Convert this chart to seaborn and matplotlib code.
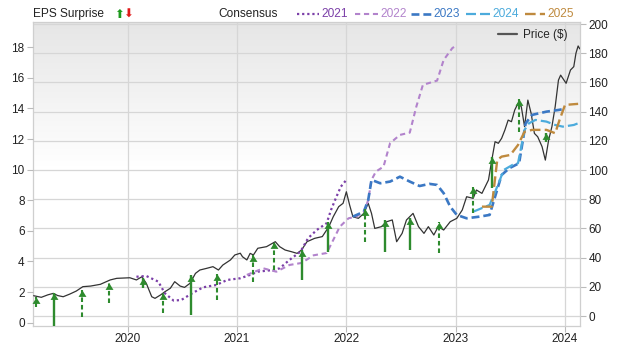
import numpy as np
import pandas as pd
import matplotlib
matplotlib.use("Agg")
import matplotlib.pyplot as plt
import seaborn as sns
from matplotlib.lines import Line2D
from matplotlib.path import Path
from matplotlib.colors import LinearSegmentedColormap

# ---------------- data ----------------
price_t = [2019.14, 2019.21, 2019.27, 2019.32, 2019.36, 2019.41, 2019.47, 2019.53, 2019.59, 2019.66,
           2019.75, 2019.84, 2019.90, 2019.96, 2020.02, 2020.08, 2020.13, 2020.17, 2020.22, 2020.25,
           2020.30, 2020.34, 2020.39, 2020.43, 2020.48, 2020.52, 2020.57, 2020.62, 2020.66, 2020.72,
           2020.78, 2020.83, 2020.87, 2020.94, 2020.98, 2021.03, 2021.05, 2021.09, 2021.12, 2021.15,
           2021.19, 2021.27, 2021.35, 2021.39, 2021.44, 2021.50, 2021.55, 2021.59, 2021.64, 2021.71,
           2021.78, 2021.84, 2021.88, 2021.93, 2021.97, 2022.00, 2022.03, 2022.06, 2022.11, 2022.16,
           2022.20, 2022.23, 2022.26, 2022.32, 2022.37, 2022.42, 2022.46, 2022.51, 2022.55, 2022.61,
           2022.66, 2022.71, 2022.75, 2022.80, 2022.84, 2022.89, 2022.95, 2023.01, 2023.06, 2023.10,
           2023.16, 2023.19, 2023.24, 2023.27, 2023.30, 2023.33, 2023.36, 2023.39, 2023.42, 2023.45,
           2023.48, 2023.51, 2023.54, 2023.57, 2023.60, 2023.63, 2023.66, 2023.69, 2023.72, 2023.75,
           2023.79, 2023.82, 2023.85, 2023.88, 2023.91, 2023.94, 2023.96, 2024.01, 2024.05, 2024.08,
           2024.10, 2024.12, 2024.135]
price_v = [13.9, 12.8, 14.5, 15.5, 14.0, 13.2, 15.0, 17.1, 20.1, 20.5,
           21.7, 24.7, 25.8, 26.0, 26.2, 24.7, 26.9, 22.4, 13.2, 12.1,
           14.4, 16.6, 19.0, 23.5, 20.5, 19.6, 22.4, 29.2, 31.5, 32.6,
           33.8, 31.5, 34.9, 38.4, 41.8, 43.0, 40.6, 38.4, 42.9, 41.8,
           46.4, 47.5, 50.9, 47.5, 45.2, 44.0, 42.9, 45.2, 50.9, 53.2,
           54.4, 61.2, 68.0, 74.9, 77.2, 85.1, 76.0, 68.0, 66.9, 70.3,
           77.2, 70.3, 60.0, 61.2, 64.6, 65.8, 50.9, 56.6, 65.8, 70.3,
           61.2, 56.6, 61.2, 55.5, 61.2, 58.9, 64.6, 66.9, 72.6, 81.7,
           80.6, 86.3, 84.0, 88.6, 93.2, 106.8, 119.4, 118.3, 121.7, 127.4,
           134.2, 133.1, 141.1, 145.7, 143.4, 129.7, 147.9, 138.8, 125.1, 122.8,
           116.0, 106.8, 120.5, 129.7, 143.4, 161.6, 165.0, 159.4, 168.5, 170.8,
           180.0, 185.0, 183.0]

c2021_t = [2020.08, 2020.17, 2020.28, 2020.34, 2020.42, 2020.49, 2020.59, 2020.69, 2020.81, 2020.91,
           2021.03, 2021.12, 2021.19, 2021.33, 2021.39, 2021.48, 2021.58, 2021.65, 2021.73, 2021.82,
           2021.86, 2021.91, 2021.95, 2022.00]
c2021_v = [3.0, 3.05, 2.68, 1.92, 1.44, 1.48, 1.92, 2.31, 2.46, 2.79,
           2.9, 3.12, 3.33, 3.44, 3.55, 4.1, 4.64, 5.52, 6.06, 6.5,
           7.37, 8.24, 8.89, 9.33]

c2022_t = [2021.09, 2021.24, 2021.36, 2021.48, 2021.59, 2021.70, 2021.82, 2021.88, 2021.94, 2022.02,
           2022.09, 2022.16, 2022.20, 2022.23, 2022.27, 2022.34, 2022.40, 2022.49, 2022.58, 2022.64,
           2022.70, 2022.83, 2022.89, 2022.97, 2023.00]
c2022_v = [3.12, 3.55, 3.33, 3.77, 3.9, 4.4, 4.55, 5.4, 6.27, 6.82,
           6.93, 7.25, 8.0, 9.33, 9.87, 10.2, 11.73, 12.27, 12.42, 14.12,
           15.54, 15.82, 17.17, 17.95, 18.08]

c2023_t = [2022.06, 2022.16, 2022.20, 2022.23, 2022.31, 2022.40, 2022.49, 2022.58, 2022.67, 2022.76,
           2022.83, 2022.89, 2022.95, 2023.01, 2023.10, 2023.22, 2023.31, 2023.37, 2023.42, 2023.49,
           2023.58, 2023.64, 2023.70, 2023.83, 2023.94, 2023.98]
c2023_v = [6.93, 7.25, 8.02, 9.33, 9.11, 9.22, 9.54, 9.22, 8.93, 9.07,
           9.0, 8.46, 7.58, 7.04, 6.82, 6.93, 7.04, 8.46, 9.65, 10.09,
           10.42, 13.03, 13.58, 13.79, 13.9, 13.95]

c2024_t = [2023.16, 2023.31, 2023.38, 2023.44, 2023.52, 2023.57, 2023.63, 2023.67, 2023.73, 2023.83,
           2023.91, 2023.98, 2024.08, 2024.12]
c2024_v = [7.25, 7.69, 8.89, 9.98, 10.31, 10.42, 12.6, 13.03, 13.25, 13.14,
           12.92, 12.81, 12.92, 13.03]

c2025_t = [2023.24, 2023.33, 2023.38, 2023.42, 2023.50, 2023.57, 2023.63, 2023.70, 2023.83, 2023.91,
           2023.95, 2024.00, 2024.12]
c2025_v = [7.58, 7.58, 10.63, 10.85, 10.96, 11.61, 12.48, 12.6, 12.6, 12.38,
           13.25, 14.23, 14.3]

surprise_t = [2019.16, 2019.33, 2019.58, 2019.83, 2020.14, 2020.32, 2020.58, 2020.82, 2021.15, 2021.34,
              2021.59, 2021.83, 2022.17, 2022.35, 2022.58, 2022.85, 2023.16, 2023.33, 2023.58, 2023.83]
surprise_consensus = [1.05, -0.2, 0.39, 1.27, 2.25, 0.61, 0.5, 1.48, 2.68, 3.44,
                      2.79, 4.64, 5.3, 4.64, 4.75, 4.53, 7.15, 8.78, 12.48, 11.83]
surprise_actual = [1.66, 1.92, 2.14, 2.61, 2.9, 1.92, 3.12, 3.16, 4.42, 5.3,
                   4.75, 6.6, 7.41, 6.71, 6.82, 6.6, 8.89, 10.85, 14.6, 12.38]
surprise_reported = [False, True, False, False, True, False, True, False, False, False,
                     True, True, False, True, True, False, False, True, False, True]

year_ticks = [2020, 2021, 2022, 2023, 2024]
eps_ticks = [0, 2, 4, 6, 8, 10, 12, 14, 16, 18]
price_ticks = [0, 20, 40, 60, 80, 100, 120, 140, 160, 180, 200]

consensus_labels = ["2021", "2022", "2023", "2024", "2025"]

# ---------------- style ----------------
sns.set_theme(style="white")
plt.rcParams['font.family'] = ['Liberation Sans', 'DejaVu Sans']

C = {"2021": "#7b3fa8", "2022": "#b283cc", "2023": "#3b78c4", "2024": "#4cabdc", "2025": "#bf8a3e"}
LS = {"2021": (0, (1, 1.3)), "2022": (0, (2.5, 1.8)), "2023": (0, (3, 1.5)),
      "2024": (0, (4.5, 1.8)), "2025": (0, (4.5, 1.8))}
LW = {"2021": 1.6, "2022": 1.5, "2023": 1.9, "2024": 1.6, "2025": 1.7}
GREEN = "#2e8b2e"
XLIM = (2019.134, 2024.137)

fig = plt.figure(figsize=(6.2, 3.51), dpi=100)
L, R, T, B = 33, 580, 22, 326
ax = fig.add_axes([L / 620, (351 - B) / 351, (R - L) / 620, (B - T) / 351])
ax2 = ax.twinx()
ax.set_facecolor("white")

# gradient background
grad = np.linspace(0, 1, 256).reshape(-1, 1)
grad = np.clip(grad * 2.1, 0, 1)
cmap = LinearSegmentedColormap.from_list("bg", ["#e6e6e6", "#ffffff"])
ax.imshow(grad, extent=[0, 1, 0, 1], transform=ax.transAxes, aspect="auto",
          cmap=cmap, zorder=0, origin="upper")

# price (base axes, ticks on right)
price_df = pd.DataFrame({"t": price_t, "price": price_v})
sns.lineplot(data=price_df, x="t", y="price", ax=ax, color="#333333", lw=0.9, zorder=3)

# consensus lines and surprises (twin axes, ticks on left)
series = {"2021": (c2021_t, c2021_v), "2022": (c2022_t, c2022_v), "2023": (c2023_t, c2023_v),
          "2024": (c2024_t, c2024_v), "2025": (c2025_t, c2025_v)}
for lab in consensus_labels:
    tt, vv = series[lab]
    sns.lineplot(x=tt, y=vv, ax=ax2, color=C[lab], lw=LW[lab], linestyle=LS[lab], zorder=4)

head = Path([(0, 0), (-0.62, -1.0), (0.62, -1.0), (0, 0)],
            [Path.MOVETO, Path.LINETO, Path.LINETO, Path.CLOSEPOLY])
for t0, c0, a0, rep in zip(surprise_t, surprise_consensus, surprise_actual, surprise_reported):
    if rep:
        ax2.vlines(t0, c0, a0, colors=GREEN, lw=1.7, zorder=5)
    else:
        ax2.vlines(t0, c0, a0, colors=GREEN, lw=1.5, linestyles=[(0, (2.2, 1.4))], zorder=5)
ax2.scatter(surprise_t, surprise_actual, marker=head, s=85, color=GREEN, lw=0, zorder=6, clip_on=False)

# axes config
ax.set_xlim(*XLIM)
ax2.set_xlim(*XLIM)
ax.set_ylim(-6.85, 201.4)
ax2.set_ylim(-0.22, 19.65)
ax.set_xticks(year_ticks)
ax.set_xticklabels([str(y) for y in year_ticks])
ax.set_yticks(price_ticks)
ax2.set_yticks(eps_ticks)
for a in (ax, ax2):
    a.set_xlabel("")
    a.set_ylabel("")
ax.yaxis.set_ticks_position("right")
ax.yaxis.set_label_position("right")
ax2.yaxis.set_ticks_position("left")
ax.grid(True, color="#d6d6d6", lw=0.9, zorder=1)
ax.set_axisbelow(True)
ax2.grid(False)
for s in ax.spines.values():
    s.set_color("#cfcfcf")
    s.set_linewidth(0.9)
for s in ax2.spines.values():
    s.set_visible(False)
ax2.patch.set_alpha(0)
ax.tick_params(axis="both", colors="#bbbbbb", labelcolor="#222222", labelsize=8.5,
               length=4, width=0.8, direction="out", pad=2)
ax.tick_params(axis="y", right=True, left=False, labelright=True, labelleft=False)
ax.tick_params(axis="x", bottom=True, pad=1)
ax2.tick_params(axis="y", colors="#bbbbbb", labelcolor="#222222", labelsize=8.5,
                length=4, width=0.8, direction="out", pad=2, left=True, right=False,
                labelleft=True, labelright=False)

# price legend
ax2.legend(handles=[Line2D([], [], color="#555555", lw=1.6)], labels=["Price ($)"],
           loc="upper right", bbox_to_anchor=(0.992, 1.005), frameon=False,
           fontsize=8.5, handlelength=1.6, handletextpad=0.5, borderaxespad=0.3)

# top legend
fsz = 8.6
yt = 1 - 14 / 351
fig.text(33 / 620, yt, "EPS Surprise", fontsize=fsz, color="#222222", va="center", ha="left")
fig.text(114 / 620, yt, "⬆", fontsize=8.5, color="#1e9a1e", va="center", ha="left",
         family=["DejaVu Sans"])
fig.text(123 / 620, yt, "⬇", fontsize=8.5, color="#e01818", va="center", ha="left",
         family=["DejaVu Sans"])
fig.text(218 / 620, yt, "Consensus", fontsize=fsz, color="#222222", va="center", ha="left")
seg = {"2021": (297, 319, 321), "2022": (355, 378, 380), "2023": (411, 431, 433),
       "2024": (466, 490, 492), "2025": (525, 545, 547)}
for lab in consensus_labels:
    x0, x1, xt = seg[lab]
    fig.add_artist(Line2D([x0 / 620, x1 / 620], [yt, yt], transform=fig.transFigure,
                          color=C[lab], lw=LW[lab], linestyle=LS[lab]))
    fig.text(xt / 620, yt, lab, fontsize=fsz, color=C[lab], va="center", ha="left")

fig.savefig("out.png", dpi=100, facecolor="white")
